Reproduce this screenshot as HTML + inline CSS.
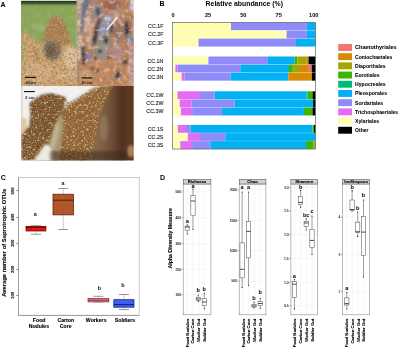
<!DOCTYPE html><html><head><meta charset="utf-8"><style>html,body{margin:0;padding:0;background:#fff;}svg{display:block;will-change:transform;filter:blur(0.3px);} text{font-family:"Liberation Sans", sans-serif;}</style></head><body>
<svg width="400" height="350" viewBox="0 0 400 350">
<rect x="0" y="0" width="400" height="350" fill="#fff"/>
<defs>
<clipPath id="cpTL"><rect x="21" y="0.8" width="55.8" height="85.3"/></clipPath>
<clipPath id="cpTR"><rect x="76.8" y="0" width="56.9" height="86.1"/></clipPath>
<clipPath id="cpB"><rect x="21" y="86.1" width="112.7" height="74.4"/></clipPath>
<filter id="bl" x="-5%" y="-5%" width="110%" height="110%"><feGaussianBlur stdDeviation="0.9"/></filter>
<filter id="bl2" x="-5%" y="-5%" width="110%" height="110%"><feGaussianBlur stdDeviation="1.6"/></filter>
<filter id="spk" x="0" y="0" width="1" height="1">
  <feTurbulence type="fractalNoise" baseFrequency="0.45" numOctaves="2" seed="3" result="n"/>
  <feColorMatrix in="n" type="matrix" values="0 0 0 0 0.88  0 0 0 0 0.68  0 0 0 0 0.38  0 0 0 5 -2.65"/>
  <feGaussianBlur stdDeviation="0.35"/>
</filter>
<filter id="spkd" x="0" y="0" width="1" height="1">
  <feTurbulence type="fractalNoise" baseFrequency="0.45" numOctaves="2" seed="3" result="n"/>
  <feColorMatrix in="n" type="matrix" values="0 0 0 0 0.30  0 0 0 0 0.17  0 0 0 0 0.05  0 0 0 -5 2.45"/>
  <feGaussianBlur stdDeviation="0.35"/>
</filter>
<filter id="motd" x="0" y="0" width="1" height="1">
  <feTurbulence type="fractalNoise" baseFrequency="0.22" numOctaves="2" seed="11" result="n"/>
  <feColorMatrix in="n" type="matrix" values="0 0 0 0 0.26  0 0 0 0 0.22  0 0 0 0 0.27  0 0 0 -5 2.35"/>
</filter>
<filter id="motl" x="0" y="0" width="1" height="1">
  <feTurbulence type="fractalNoise" baseFrequency="0.22" numOctaves="2" seed="11" result="n"/>
  <feColorMatrix in="n" type="matrix" values="0 0 0 0 0.85  0 0 0 0 0.70  0 0 0 0 0.62  0 0 0 5 -2.65"/>
</filter>
<filter id="grs" x="0" y="0" width="1" height="1">
  <feTurbulence type="fractalNoise" baseFrequency="0.25" numOctaves="3" seed="5" result="n"/>
  <feColorMatrix in="n" type="matrix" values="0 0 0 0 0.32  0 0 0 0 0.42  0 0 0 0 0.16  0 0 0 -6 2.95"/>
  <feGaussianBlur stdDeviation="0.5"/>
</filter>
<clipPath id="cpMound"><polygon points="21,33 25,32 29,34 31,38 35,40 38,42 43,43 43.4,37.4 45.5,29 49,20.6 52,17 56,15.7 61.6,17.8 65.8,26.2 69.3,36 70.7,43 72,46 77,48 77,86 21,86"/></clipPath>
<clipPath id="cpBlocks"><polygon points="21,160 21,136 29.4,125 30,114 29.4,103 34.5,98.8 41.7,94.4 50.4,93 59.1,95.1 66.4,97.3 69.3,102.4 78,97.3 86,92.5 93,87.5 98,86 134,86 134,161"/></clipPath>
</defs>
<!-- ===== top-left photo ===== -->
<g clip-path="url(#cpTL)">
 <g filter="url(#bl)">
 <rect x="19" y="-1" width="60" height="89" fill="#88A656"/>
 <rect x="19" y="-1" width="60" height="89" filter="url(#grs)" opacity="0.9"/>
 <ellipse cx="39" cy="27" rx="7" ry="3" fill="#A8B88E" opacity="0.55"/>
 
 <rect x="19" y="-1" width="60" height="5.4" fill="#2A4028"/>
 <polygon points="19,33 25,32 29,34 31,38 35,40 38,42 43,43 43.4,37.4 45.5,29 49,20.6 52,17 56,15.7 61.6,17.8 65.8,26.2 69.3,36 70.7,43 72,46 79,48 79,88 19,88" fill="#C9A174"/>
 <polygon points="43,43 43.4,37.4 45.5,29 49,20.6 52,17 56,15.7 61.6,17.8 65.8,26.2 69.3,36 70.7,43 64,46 50,44" fill="#A98056"/>
 <polygon points="19,40 25,40 26,52 24,66 19,68" fill="#A8A878" opacity="0.75"/>
 <ellipse cx="71" cy="58" rx="7" ry="11" fill="#DEC6A4" opacity="0.8"/>
 <ellipse cx="38" cy="72" rx="14" ry="10" fill="#D6B08A" opacity="0.6"/>
 <polygon points="44,44 48,41.5 55,41 60,44 61.5,51 59,58 53,61 47,59.5 43.5,54" fill="#7C6E5C"/>
 <ellipse cx="51.5" cy="51" rx="5.5" ry="6" fill="#675A4A"/>
 <line x1="33.6" y1="47.2" x2="39.2" y2="62.6" stroke="#6A5038" stroke-width="1.2" opacity="0.8"/>
 <line x1="57" y1="75.8" x2="78" y2="74.2" stroke="#E6D0B6" stroke-width="1.4"/>
 </g>
 <g clip-path="url(#cpMound)">
  <rect x="21" y="1" width="56" height="85" filter="url(#spk)" opacity="0.3"/>
  <rect x="21" y="1" width="56" height="85" filter="url(#spkd)" opacity="0.5"/>
 </g>
 <rect x="25.2" y="76.8" width="10.9" height="1.2" fill="#111"/>
 <text x="25.4" y="83.5" font-size="4.2" font-weight="bold" fill="#222" textLength="10.5">20 cm</text>
</g>
<!-- ===== top-right photo ===== -->
<g clip-path="url(#cpTR)">
 <g filter="url(#bl)">
 <rect x="75" y="-2" width="61" height="90" fill="#BA7E58"/>
 <polygon points="75,56 136,60 136,88 75,88" fill="#C48A60"/>
 <rect x="76.8" y="-2" width="1.0" height="90" fill="#8A9A78"/>
 <rect x="77.6" y="-2" width="5" height="62" fill="#D2B6A4"/>
 <rect x="84" y="8" width="4" height="24" fill="#D6B6A6"/>
 <rect x="88" y="-2" width="7" height="40" fill="#B88A78"/>
 <polygon points="86,14 90,12 92,28 91,45 88,50 86,40" fill="#D4AA90"/>
 <polygon points="113,2 118,0 121,10 122,30 120,48 116,60 113,50 114,30" fill="#C49A8A"/>
 <polygon points="82,-2 90,-2 89,8 86,13 84,25 81.5,36 79.8,34 80.5,20" fill="#687484"/>
 
 <ellipse cx="98" cy="11.5" rx="5" ry="7.5" fill="#9C98A4"/>
 <ellipse cx="98" cy="11.5" rx="2.8" ry="4.5" fill="#4E5262"/>
 <ellipse cx="112" cy="5" rx="9" ry="5" fill="#9A5E4E"/>
 <polygon points="96,36 108,31 111,40 109,52 105,60 97,60 93.5,50" fill="#9A9086"/>
 <polygon points="100,21 108,14 112.5,15 111.5,24 108,32 99,37 96.5,32" fill="#9498B2"/>
 <ellipse cx="108.5" cy="18.5" rx="3.5" ry="3" fill="#C4C8D8"/>
 <polygon points="99,18 101.5,18.5 98.5,30 96.5,42 93.5,47 92,41 95,28" fill="#3A3236"/>
 <ellipse cx="111.5" cy="29" rx="1.5" ry="5" fill="#3A3236"/>
 <ellipse cx="118" cy="32" rx="5" ry="11" fill="#987468"/>
 <ellipse cx="127" cy="29" rx="2.8" ry="8.5" fill="#3C3444"/>
 <rect x="130" y="-2" width="6" height="14" fill="#D8C8D0"/>
 <ellipse cx="106" cy="40" rx="2.2" ry="4" fill="#2E2630"/>
 <ellipse cx="130.5" cy="39" rx="3.5" ry="6" fill="#8890A0"/>
 <polygon points="81,47 85,46 86,56 84.5,66 81.5,64" fill="#3E3434"/>
 <ellipse cx="89" cy="57" rx="3.2" ry="5" fill="#9080A8"/>
 <circle cx="100" cy="51.5" r="1.9" fill="#302828"/>
 <circle cx="95" cy="58" r="1.8" fill="#302828"/>
 <circle cx="92" cy="68.5" r="1.7" fill="#362c2c"/>
 <circle cx="97.5" cy="70.5" r="1.7" fill="#362c2c"/>
 <circle cx="108" cy="57" r="2.1" fill="#2c2424"/>
 <ellipse cx="118" cy="54" rx="6" ry="8" fill="#B48C88"/>
 <ellipse cx="110.5" cy="70" rx="4" ry="3" fill="#D4824E"/>
 <ellipse cx="117.5" cy="75" rx="3" ry="4" fill="#3C4454"/>
 <ellipse cx="125" cy="62" rx="3" ry="3" fill="#5A4040"/>
 <rect x="129" y="44" width="7" height="44" fill="#C8A0A0" opacity="0.75"/>
 <ellipse cx="85" cy="76" rx="7" ry="6" fill="#D2A076" opacity="0.7"/>
 <ellipse cx="104" cy="80" rx="6" ry="4" fill="#B88060" opacity="0.7"/>
 </g>
 <rect x="76.8" y="0" width="57" height="86" filter="url(#motd)" opacity="0.55"/>
 <rect x="76.8" y="0" width="57" height="86" filter="url(#motl)" opacity="0.45"/>
 <rect x="76.8" y="0" width="57" height="86" filter="url(#spkd)" opacity="0.25"/>
 <line x1="117.5" y1="17.2" x2="106.5" y2="30.1" stroke="#EEEEF6" stroke-width="1.5"/>
 <rect x="81.6" y="77.3" width="10.7" height="1.2" fill="#111"/>
 <text x="81.4" y="83.6" font-size="4.2" font-weight="bold" fill="#222" textLength="11">40 cm</text>
</g>
<!-- ===== bottom photo ===== -->
<linearGradient id="gR" x1="98" y1="0" x2="128" y2="0" gradientUnits="userSpaceOnUse">
 <stop offset="0" stop-color="#86684A"/><stop offset="0.45" stop-color="#6E5038"/><stop offset="0.8" stop-color="#523020"/><stop offset="1" stop-color="#5A3824"/>
</linearGradient>
<clipPath id="cpPor"><polygon points="21,161 21,136 29.4,125 30,114 29.4,103 34.5,98.8 41.7,94.4 50.4,93 59.1,95.1 66.4,97.3 69.3,102.4 78,97.3 86,92.5 93,87.5 98,86 113,86 104,105 99,118 94.6,141 92,161"/></clipPath>
<g clip-path="url(#cpB)">
 <g filter="url(#bl)">
 <rect x="19" y="84" width="117" height="79" fill="#F1F2F0"/>
 <rect x="19" y="84" width="3.2" height="54" fill="#D8C8B0"/>
 <rect x="19" y="118" width="8" height="18" fill="#E0C8A8"/>
 <polygon points="63.5,106.7 69.3,102.4 78,97.3 86,92.5 93,87.5 98,86 136,84 136,163 33,163 43.2,146.8 53.3,131.6 60,118" fill="#8E6234"/>
 <polygon points="21,161 21,136 29.4,125 30,114 29.4,103 34.5,98.8 41.7,94.4 50.4,93 59.1,95.1 66.4,97.3 65.7,102.4 63.5,106.7 60,118 53.3,131.6 43.2,146.8 33,161" fill="#74502E"/>
 <polygon points="113,84 136,84 136,163 90,163 94.6,141 99,118 104,105" fill="url(#gR)"/>
 <ellipse cx="104" cy="128" rx="4" ry="13" fill="#9A8262" opacity="0.6"/>
 <ellipse cx="131" cy="151" rx="3.5" ry="6" fill="#B08050"/>
 <polygon points="63.5,106.7 69.3,102.4 78,97.3 86,92.5 93,87.5 98,86 99,88 92,91 85,95 78,99.5 70,104.5 65,108.5" fill="#B8A888"/>
 </g>
 <g clip-path="url(#cpPor)">
  <rect x="21" y="85" width="95" height="76" filter="url(#spk)" opacity="0.62"/>
  <rect x="21" y="85" width="95" height="76" filter="url(#spkd)" opacity="0.85"/>
 </g>
 <g filter="url(#bl)">
 <polygon points="57,120 61.5,113 63.5,122 62.5,135 60.5,148 59,163 50,163 46.5,150 51,138" fill="#A89878"/>
 <polygon points="54,128 58,121 59.5,128 57,140 54,150 50,146" fill="#C4B898" opacity="0.8"/>
 <polygon points="33,163 44.8,144.6 49,145.5 52,151 53,163" fill="#EEEAE0"/>
 </g>
 <rect x="50" y="151" width="76" height="10" fill="#3E2C1E" opacity="0.55" filter="url(#bl2)"/>
 <rect x="24" y="91" width="10.8" height="1.1" fill="#111"/>
 <text x="25" y="99.2" font-size="4.2" font-weight="bold" fill="#1a2040" textLength="9.5">2 cm</text>
</g>

<text x="0.60" y="6.50" font-size="7.00" font-weight="bold" fill="#000" text-anchor="start" >A</text>
<text x="159.60" y="6.20" font-size="7.00" font-weight="bold" fill="#000" text-anchor="start" >B</text>
<text x="0.70" y="180.30" font-size="7.00" font-weight="bold" fill="#000" text-anchor="start" >C</text>
<text x="160.10" y="180.30" font-size="7.00" font-weight="bold" fill="#000" text-anchor="start" >D</text>
<text x="244.30" y="6.00" font-size="6.90" font-weight="bold" fill="#000" text-anchor="middle" >Relative abundance (%)</text>
<text x="173.00" y="17.10" font-size="5.60" font-weight="bold" fill="#000" text-anchor="middle" >0</text>
<text x="208.00" y="17.10" font-size="5.60" font-weight="bold" fill="#000" text-anchor="middle" >25</text>
<text x="243.30" y="17.10" font-size="5.60" font-weight="bold" fill="#000" text-anchor="middle" >50</text>
<text x="278.70" y="17.10" font-size="5.60" font-weight="bold" fill="#000" text-anchor="middle" >75</text>
<text x="313.70" y="17.10" font-size="5.60" font-weight="bold" fill="#000" text-anchor="middle" >100</text>
<rect x="172.50" y="22.40" width="58.50" height="8.05" fill="#FFFDB0"/>
<rect x="231.00" y="22.40" width="75.90" height="8.05" fill="#8F8CFA"/>
<rect x="306.90" y="22.40" width="8.60" height="8.05" fill="#02B0F4"/>
<text x="163.40" y="28.42" font-size="5.30" font-weight="normal" fill="#222" text-anchor="end"  stroke="#222" stroke-width="0.12">CC.1F</text>
<rect x="172.50" y="30.45" width="114.10" height="8.05" fill="#FFFDB0"/>
<rect x="286.60" y="30.45" width="20.30" height="8.05" fill="#8F8CFA"/>
<rect x="306.90" y="30.45" width="8.60" height="8.05" fill="#02B0F4"/>
<rect x="172.50" y="30.10" width="143.00" height="0.7" fill="#fff" fill-opacity="0.3"/>
<text x="163.40" y="36.48" font-size="5.30" font-weight="normal" fill="#222" text-anchor="end"  stroke="#222" stroke-width="0.12">CC.2F</text>
<rect x="172.50" y="38.50" width="26.00" height="8.05" fill="#FFFDB0"/>
<rect x="198.50" y="38.50" width="97.50" height="8.05" fill="#8F8CFA"/>
<rect x="296.00" y="38.50" width="19.50" height="8.05" fill="#02B0F4"/>
<rect x="172.50" y="38.15" width="143.00" height="0.7" fill="#fff" fill-opacity="0.3"/>
<text x="163.40" y="44.52" font-size="5.30" font-weight="normal" fill="#222" text-anchor="end"  stroke="#222" stroke-width="0.12">CC.3F</text>
<rect x="172.50" y="56.50" width="35.90" height="8.05" fill="#FFFDB0"/>
<rect x="208.40" y="56.50" width="59.50" height="8.05" fill="#8F8CFA"/>
<rect x="267.90" y="56.50" width="26.70" height="8.05" fill="#02B0F4"/>
<rect x="294.60" y="56.50" width="2.70" height="8.05" fill="#39B600"/>
<rect x="297.30" y="56.50" width="9.45" height="8.05" fill="#A3A500"/>
<rect x="306.75" y="56.50" width="1.75" height="8.05" fill="#D98A00"/>
<rect x="308.50" y="56.50" width="7.00" height="8.05" fill="#000000"/>
<text x="163.40" y="62.52" font-size="5.30" font-weight="normal" fill="#222" text-anchor="end"  stroke="#222" stroke-width="0.12">CC.1N</text>
<rect x="172.50" y="64.55" width="2.90" height="8.05" fill="#FFFDB0"/>
<rect x="175.40" y="64.55" width="2.20" height="8.05" fill="#E46CF2"/>
<rect x="177.60" y="64.55" width="62.70" height="8.05" fill="#8F8CFA"/>
<rect x="240.30" y="64.55" width="48.70" height="8.05" fill="#02B0F4"/>
<rect x="289.00" y="64.55" width="3.80" height="8.05" fill="#39B600"/>
<rect x="292.80" y="64.55" width="7.20" height="8.05" fill="#A3A500"/>
<rect x="300.00" y="64.55" width="8.00" height="8.05" fill="#D98A00"/>
<rect x="308.00" y="64.55" width="3.70" height="8.05" fill="#F3756D"/>
<rect x="311.70" y="64.55" width="3.80" height="8.05" fill="#000000"/>
<rect x="172.50" y="64.20" width="143.00" height="0.7" fill="#fff" fill-opacity="0.3"/>
<text x="163.40" y="70.58" font-size="5.30" font-weight="normal" fill="#222" text-anchor="end"  stroke="#222" stroke-width="0.12">CC.2N</text>
<rect x="172.50" y="72.60" width="9.10" height="8.05" fill="#FFFDB0"/>
<rect x="181.60" y="72.60" width="3.00" height="8.05" fill="#E46CF2"/>
<rect x="184.60" y="72.60" width="45.80" height="8.05" fill="#8F8CFA"/>
<rect x="230.40" y="72.60" width="57.90" height="8.05" fill="#02B0F4"/>
<rect x="288.30" y="72.60" width="23.60" height="8.05" fill="#D98A00"/>
<rect x="311.90" y="72.60" width="3.60" height="8.05" fill="#000000"/>
<rect x="172.50" y="72.25" width="143.00" height="0.7" fill="#fff" fill-opacity="0.3"/>
<text x="163.40" y="78.62" font-size="5.30" font-weight="normal" fill="#222" text-anchor="end"  stroke="#222" stroke-width="0.12">CC.3N</text>
<rect x="172.50" y="91.30" width="5.00" height="8.05" fill="#FFFDB0"/>
<rect x="177.50" y="91.30" width="22.50" height="8.05" fill="#E46CF2"/>
<rect x="200.00" y="91.30" width="14.60" height="8.05" fill="#8F8CFA"/>
<rect x="214.60" y="91.30" width="92.10" height="8.05" fill="#02B0F4"/>
<rect x="306.70" y="91.30" width="0.90" height="8.05" fill="#00BA78"/>
<rect x="307.60" y="91.30" width="4.90" height="8.05" fill="#39B600"/>
<rect x="312.50" y="91.30" width="3.00" height="8.05" fill="#000000"/>
<text x="163.40" y="97.33" font-size="5.30" font-weight="normal" fill="#222" text-anchor="end"  stroke="#222" stroke-width="0.12">CC.1W</text>
<rect x="172.50" y="99.35" width="7.25" height="8.05" fill="#FFFDB0"/>
<rect x="179.75" y="99.35" width="11.85" height="8.05" fill="#E46CF2"/>
<rect x="191.60" y="99.35" width="43.10" height="8.05" fill="#8F8CFA"/>
<rect x="234.70" y="99.35" width="78.40" height="8.05" fill="#02B0F4"/>
<rect x="313.10" y="99.35" width="2.40" height="8.05" fill="#000000"/>
<rect x="172.50" y="99.00" width="143.00" height="0.7" fill="#fff" fill-opacity="0.3"/>
<text x="163.40" y="105.38" font-size="5.30" font-weight="normal" fill="#222" text-anchor="end"  stroke="#222" stroke-width="0.12">CC.2W</text>
<rect x="172.50" y="107.40" width="8.40" height="8.05" fill="#FFFDB0"/>
<rect x="180.90" y="107.40" width="11.20" height="8.05" fill="#E46CF2"/>
<rect x="192.10" y="107.40" width="30.00" height="8.05" fill="#8F8CFA"/>
<rect x="222.10" y="107.40" width="81.80" height="8.05" fill="#02B0F4"/>
<rect x="303.90" y="107.40" width="8.60" height="8.05" fill="#39B600"/>
<rect x="312.50" y="107.40" width="3.00" height="8.05" fill="#000000"/>
<rect x="172.50" y="107.05" width="143.00" height="0.7" fill="#fff" fill-opacity="0.3"/>
<text x="163.40" y="113.43" font-size="5.30" font-weight="normal" fill="#222" text-anchor="end"  stroke="#222" stroke-width="0.12">CC.3W</text>
<rect x="172.50" y="124.90" width="5.40" height="8.05" fill="#FFFDB0"/>
<rect x="177.90" y="124.90" width="8.10" height="8.05" fill="#E46CF2"/>
<rect x="186.00" y="124.90" width="4.60" height="8.05" fill="#8F8CFA"/>
<rect x="190.60" y="124.90" width="121.90" height="8.05" fill="#02B0F4"/>
<rect x="312.50" y="124.90" width="1.50" height="8.05" fill="#39B600"/>
<rect x="314.00" y="124.90" width="1.50" height="8.05" fill="#000000"/>
<text x="163.40" y="130.93" font-size="5.30" font-weight="normal" fill="#222" text-anchor="end"  stroke="#222" stroke-width="0.12">CC.1S</text>
<rect x="172.50" y="132.95" width="15.30" height="8.05" fill="#FFFDB0"/>
<rect x="187.80" y="132.95" width="12.20" height="8.05" fill="#E46CF2"/>
<rect x="200.00" y="132.95" width="25.30" height="8.05" fill="#8F8CFA"/>
<rect x="225.30" y="132.95" width="90.20" height="8.05" fill="#02B0F4"/>
<rect x="172.50" y="132.60" width="143.00" height="0.7" fill="#fff" fill-opacity="0.3"/>
<text x="163.40" y="138.98" font-size="5.30" font-weight="normal" fill="#222" text-anchor="end"  stroke="#222" stroke-width="0.12">CC.2S</text>
<rect x="172.50" y="141.00" width="7.80" height="8.05" fill="#FFFDB0"/>
<rect x="180.30" y="141.00" width="11.80" height="8.05" fill="#E46CF2"/>
<rect x="192.10" y="141.00" width="18.20" height="8.05" fill="#8F8CFA"/>
<rect x="210.30" y="141.00" width="95.70" height="8.05" fill="#02B0F4"/>
<rect x="306.00" y="141.00" width="7.40" height="8.05" fill="#39B600"/>
<rect x="313.40" y="141.00" width="2.10" height="8.05" fill="#A3A500"/>
<rect x="172.50" y="140.65" width="143.00" height="0.7" fill="#fff" fill-opacity="0.3"/>
<text x="163.40" y="147.03" font-size="5.30" font-weight="normal" fill="#222" text-anchor="end"  stroke="#222" stroke-width="0.12">CC.3S</text>
<rect x="172.6" y="22.35" width="142.95" height="126.7" fill="none" stroke="#666" stroke-width="0.7"/>
<rect x="338.2" y="44.00" width="13.8" height="6.9" fill="#F3756D"/>
<text x="355.00" y="49.40" font-size="5.55" font-weight="bold" fill="#000" text-anchor="start" textLength="41.6" lengthAdjust="spacingAndGlyphs" stroke="#000" stroke-width="0.05">Chaetothyriales</text>
<rect x="338.2" y="53.20" width="13.8" height="6.9" fill="#D98A00"/>
<text x="355.00" y="58.60" font-size="5.55" font-weight="bold" fill="#000" text-anchor="start" textLength="37.4" lengthAdjust="spacingAndGlyphs" stroke="#000" stroke-width="0.05">Coniochaetales</text>
<rect x="338.2" y="62.40" width="13.8" height="6.9" fill="#A3A500"/>
<text x="355.00" y="67.80" font-size="5.55" font-weight="bold" fill="#000" text-anchor="start" textLength="30.6" lengthAdjust="spacingAndGlyphs" stroke="#000" stroke-width="0.05">Diaporthales</text>
<rect x="338.2" y="71.60" width="13.8" height="6.9" fill="#39B600"/>
<text x="355.00" y="77.00" font-size="5.55" font-weight="bold" fill="#000" text-anchor="start" textLength="24.6" lengthAdjust="spacingAndGlyphs" stroke="#000" stroke-width="0.05">Eurotiales</text>
<rect x="338.2" y="80.80" width="13.8" height="6.9" fill="#00BA78"/>
<text x="355.00" y="86.20" font-size="5.55" font-weight="bold" fill="#000" text-anchor="start" textLength="30.7" lengthAdjust="spacingAndGlyphs" stroke="#000" stroke-width="0.05">Hypocreales</text>
<rect x="338.2" y="90.00" width="13.8" height="6.9" fill="#02B0F4"/>
<text x="355.00" y="95.40" font-size="5.55" font-weight="bold" fill="#000" text-anchor="start" textLength="32.0" lengthAdjust="spacingAndGlyphs" stroke="#000" stroke-width="0.05">Pleosporales</text>
<rect x="338.2" y="99.20" width="13.8" height="6.9" fill="#8F8CFA"/>
<text x="355.00" y="104.60" font-size="5.55" font-weight="bold" fill="#000" text-anchor="start" textLength="28.2" lengthAdjust="spacingAndGlyphs" stroke="#000" stroke-width="0.05">Sordariales</text>
<rect x="338.2" y="108.40" width="13.8" height="6.9" fill="#E46CF2"/>
<text x="355.00" y="113.80" font-size="5.55" font-weight="bold" fill="#000" text-anchor="start" textLength="43.2" lengthAdjust="spacingAndGlyphs" stroke="#000" stroke-width="0.05">Trichosphaeriales</text>
<rect x="338.2" y="117.60" width="13.8" height="6.9" fill="#FFFDB0"/>
<text x="355.00" y="123.00" font-size="5.55" font-weight="bold" fill="#000" text-anchor="start" textLength="24.2" lengthAdjust="spacingAndGlyphs" stroke="#000" stroke-width="0.05">Xylariales</text>
<rect x="338.2" y="126.80" width="13.8" height="6.9" fill="#000000"/>
<text x="355.00" y="132.20" font-size="5.55" font-weight="bold" fill="#000" text-anchor="start" textLength="13.6" lengthAdjust="spacingAndGlyphs" stroke="#000" stroke-width="0.05">Other</text>
<rect x="18.50" y="177.40" width="120.70" height="138.00" fill="none" stroke="#bdbdbd" stroke-width="0.8"/>
<polyline points="18.50,177.40 18.50,315.40 139.20,315.40" fill="none" stroke="#959595" stroke-width="0.9"/>
<line x1="16.2" y1="295.50" x2="18.5" y2="295.50" stroke="#777" stroke-width="0.8"/>
<text x="0.00" y="0.00" font-size="4.30" font-weight="bold" fill="#222" text-anchor="middle" transform="translate(14.3 295.40) rotate(-90)" stroke="#222" stroke-width="0.15">100</text>
<line x1="16.2" y1="269.50" x2="18.5" y2="269.50" stroke="#777" stroke-width="0.8"/>
<text x="0.00" y="0.00" font-size="4.30" font-weight="bold" fill="#222" text-anchor="middle" transform="translate(14.3 269.30) rotate(-90)" stroke="#222" stroke-width="0.15">200</text>
<line x1="16.2" y1="243.50" x2="18.5" y2="243.50" stroke="#777" stroke-width="0.8"/>
<text x="0.00" y="0.00" font-size="4.30" font-weight="bold" fill="#222" text-anchor="middle" transform="translate(14.3 243.20) rotate(-90)" stroke="#222" stroke-width="0.15">300</text>
<line x1="16.2" y1="217.50" x2="18.5" y2="217.50" stroke="#777" stroke-width="0.8"/>
<text x="0.00" y="0.00" font-size="4.30" font-weight="bold" fill="#222" text-anchor="middle" transform="translate(14.3 217.10) rotate(-90)" stroke="#222" stroke-width="0.15">400</text>
<line x1="16.2" y1="190.50" x2="18.5" y2="190.50" stroke="#777" stroke-width="0.8"/>
<text x="0.00" y="0.00" font-size="4.30" font-weight="bold" fill="#222" text-anchor="middle" transform="translate(14.3 191.00) rotate(-90)" stroke="#222" stroke-width="0.15">500</text>
<text x="0.00" y="0.00" font-size="5.83" font-weight="bold" fill="#000" text-anchor="middle" transform="translate(6.3 242.75) rotate(-90)" stroke="#000" stroke-width="0.10">Average number of Saprotrophic OTUs</text>
<line x1="35.95" y1="225.80" x2="35.95" y2="226.30" stroke="#999" stroke-width="0.5"/>
<line x1="35.95" y1="231.00" x2="35.95" y2="234.20" stroke="#999" stroke-width="0.5"/>
<line x1="30.95" y1="225.80" x2="40.95" y2="225.80" stroke="#6b6b5a" stroke-width="0.7"/>
<line x1="30.95" y1="234.20" x2="40.95" y2="234.20" stroke="#6b6b5a" stroke-width="0.7"/>
<rect x="26.00" y="226.30" width="19.90" height="4.70" fill="#EE1111" stroke="#550000" stroke-width="0.7"/>
<line x1="26.00" y1="227.40" x2="45.90" y2="227.40" stroke="#550000" stroke-width="0.9"/>
<line x1="63.25" y1="188.50" x2="63.25" y2="194.20" stroke="#999" stroke-width="0.5"/>
<line x1="63.25" y1="214.90" x2="63.25" y2="229.50" stroke="#999" stroke-width="0.5"/>
<line x1="58.25" y1="188.50" x2="68.25" y2="188.50" stroke="#6b6b5a" stroke-width="0.7"/>
<line x1="58.25" y1="229.50" x2="68.25" y2="229.50" stroke="#6b6b5a" stroke-width="0.7"/>
<rect x="53.00" y="194.20" width="20.50" height="20.70" fill="#B2552A" stroke="#4a1a00" stroke-width="0.7"/>
<line x1="53.00" y1="200.20" x2="73.50" y2="200.20" stroke="#4a1a00" stroke-width="0.9"/>
<line x1="98.40" y1="296.30" x2="98.40" y2="298.50" stroke="#999" stroke-width="0.5"/>
<line x1="98.40" y1="301.90" x2="98.40" y2="301.90" stroke="#999" stroke-width="0.5"/>
<line x1="93.40" y1="296.30" x2="103.40" y2="296.30" stroke="#6b6b5a" stroke-width="0.7"/>
<line x1="93.40" y1="301.90" x2="103.40" y2="301.90" stroke="#6b6b5a" stroke-width="0.7"/>
<rect x="88.00" y="298.50" width="20.80" height="3.40" fill="#E48AA0" stroke="#8a2030" stroke-width="0.7"/>
<line x1="88.00" y1="300.20" x2="108.80" y2="300.20" stroke="#8a2030" stroke-width="0.9"/>
<line x1="123.90" y1="294.50" x2="123.90" y2="299.70" stroke="#999" stroke-width="0.5"/>
<line x1="123.90" y1="307.20" x2="123.90" y2="309.50" stroke="#999" stroke-width="0.5"/>
<line x1="118.90" y1="294.50" x2="128.90" y2="294.50" stroke="#6b6b5a" stroke-width="0.7"/>
<line x1="118.90" y1="309.50" x2="128.90" y2="309.50" stroke="#6b6b5a" stroke-width="0.7"/>
<rect x="113.80" y="299.70" width="20.20" height="7.50" fill="#3D60F2" stroke="#0a1870" stroke-width="0.7"/>
<line x1="113.80" y1="304.60" x2="134.00" y2="304.60" stroke="#0a1870" stroke-width="0.9"/>
<text x="35.30" y="216.00" font-size="5.40" font-weight="bold" fill="#111" text-anchor="middle" >a</text>
<text x="63.00" y="185.00" font-size="5.40" font-weight="bold" fill="#111" text-anchor="middle" >a</text>
<text x="99.50" y="290.00" font-size="5.40" font-weight="bold" fill="#111" text-anchor="middle" >b</text>
<text x="123.00" y="286.80" font-size="5.40" font-weight="bold" fill="#111" text-anchor="middle" >b</text>
<text x="39.20" y="322.10" font-size="5.20" font-weight="bold" fill="#000" text-anchor="middle"  stroke="#000" stroke-width="0.10">Food</text>
<text x="38.90" y="327.90" font-size="5.20" font-weight="bold" fill="#000" text-anchor="middle"  stroke="#000" stroke-width="0.10">Nodules</text>
<text x="65.80" y="322.10" font-size="5.20" font-weight="bold" fill="#000" text-anchor="middle"  stroke="#000" stroke-width="0.10">Carton</text>
<text x="65.70" y="327.90" font-size="5.20" font-weight="bold" fill="#000" text-anchor="middle"  stroke="#000" stroke-width="0.10">Core</text>
<text x="96.20" y="322.30" font-size="5.20" font-weight="bold" fill="#000" text-anchor="middle"  stroke="#000" stroke-width="0.10">Workers</text>
<text x="125.00" y="322.30" font-size="5.20" font-weight="bold" fill="#000" text-anchor="middle"  stroke="#000" stroke-width="0.10">Soldiers</text>
<rect x="183.20" y="184.00" width="27.70" height="130.80" fill="#fff"/>
<line x1="183.20" y1="191.90" x2="210.90" y2="191.90" stroke="#ececec" stroke-width="0.5"/>
<line x1="183.20" y1="217.60" x2="210.90" y2="217.60" stroke="#ececec" stroke-width="0.5"/>
<line x1="183.20" y1="243.60" x2="210.90" y2="243.60" stroke="#ececec" stroke-width="0.5"/>
<line x1="183.20" y1="269.30" x2="210.90" y2="269.30" stroke="#ececec" stroke-width="0.5"/>
<line x1="183.20" y1="294.60" x2="210.90" y2="294.60" stroke="#ececec" stroke-width="0.5"/>
<line x1="187.10" y1="184.00" x2="187.10" y2="314.80" stroke="#ececec" stroke-width="0.5"/>
<line x1="192.90" y1="184.00" x2="192.90" y2="314.80" stroke="#ececec" stroke-width="0.5"/>
<line x1="198.70" y1="184.00" x2="198.70" y2="314.80" stroke="#ececec" stroke-width="0.5"/>
<line x1="204.40" y1="184.00" x2="204.40" y2="314.80" stroke="#ececec" stroke-width="0.5"/>
<line x1="181.60" y1="191.90" x2="183.20" y2="191.90" stroke="#555" stroke-width="0.5"/>
<text x="181.00" y="193.10" font-size="3.30" font-weight="normal" fill="#333" text-anchor="end"  stroke="#333" stroke-width="0.12">500</text>
<line x1="181.60" y1="217.60" x2="183.20" y2="217.60" stroke="#555" stroke-width="0.5"/>
<text x="181.00" y="218.80" font-size="3.30" font-weight="normal" fill="#333" text-anchor="end"  stroke="#333" stroke-width="0.12">400</text>
<line x1="181.60" y1="243.60" x2="183.20" y2="243.60" stroke="#555" stroke-width="0.5"/>
<text x="181.00" y="244.80" font-size="3.30" font-weight="normal" fill="#333" text-anchor="end"  stroke="#333" stroke-width="0.12">300</text>
<line x1="181.60" y1="269.30" x2="183.20" y2="269.30" stroke="#555" stroke-width="0.5"/>
<text x="181.00" y="270.50" font-size="3.30" font-weight="normal" fill="#333" text-anchor="end"  stroke="#333" stroke-width="0.12">200</text>
<line x1="181.60" y1="294.60" x2="183.20" y2="294.60" stroke="#555" stroke-width="0.5"/>
<text x="181.00" y="295.80" font-size="3.30" font-weight="normal" fill="#333" text-anchor="end"  stroke="#333" stroke-width="0.12">100</text>
<line x1="187.20" y1="224.80" x2="187.20" y2="234.00" stroke="#333" stroke-width="0.45"/>
<rect x="185.05" y="226.10" width="4.30" height="4.30" fill="#fff" stroke="#333" stroke-width="0.45"/>
<line x1="185.05" y1="227.00" x2="189.35" y2="227.00" stroke="#222" stroke-width="0.8"/>
<circle cx="187.20" cy="224.80" r="0.6" fill="#222"/>
<circle cx="187.20" cy="234.00" r="0.6" fill="#222"/>
<text x="187.20" y="222.85" font-size="5.60" font-weight="bold" fill="#000" text-anchor="middle" >a</text>
<line x1="193.00" y1="189.00" x2="193.00" y2="229.30" stroke="#333" stroke-width="0.45"/>
<rect x="190.85" y="195.70" width="4.30" height="20.00" fill="#fff" stroke="#333" stroke-width="0.45"/>
<line x1="190.85" y1="201.00" x2="195.15" y2="201.00" stroke="#222" stroke-width="0.8"/>
<circle cx="193.00" cy="189.00" r="0.6" fill="#222"/>
<circle cx="193.00" cy="229.30" r="0.6" fill="#222"/>
<text x="193.00" y="187.75" font-size="5.60" font-weight="bold" fill="#000" text-anchor="middle" >a</text>
<line x1="198.30" y1="295.00" x2="198.30" y2="301.50" stroke="#333" stroke-width="0.45"/>
<rect x="196.15" y="297.40" width="4.30" height="2.90" fill="#fff" stroke="#333" stroke-width="0.45"/>
<line x1="196.15" y1="299.00" x2="200.45" y2="299.00" stroke="#222" stroke-width="0.8"/>
<circle cx="198.30" cy="295.00" r="0.6" fill="#222"/>
<circle cx="198.30" cy="301.50" r="0.6" fill="#222"/>
<text x="198.30" y="292.05" font-size="5.60" font-weight="bold" fill="#000" text-anchor="middle" >b</text>
<line x1="204.30" y1="293.00" x2="204.30" y2="308.80" stroke="#333" stroke-width="0.45"/>
<rect x="202.15" y="298.60" width="4.30" height="7.10" fill="#fff" stroke="#333" stroke-width="0.45"/>
<line x1="202.15" y1="302.00" x2="206.45" y2="302.00" stroke="#222" stroke-width="0.8"/>
<circle cx="204.30" cy="293.00" r="0.6" fill="#222"/>
<circle cx="204.30" cy="308.80" r="0.6" fill="#222"/>
<text x="204.30" y="290.65" font-size="5.60" font-weight="bold" fill="#000" text-anchor="middle" >b</text>
<rect x="183.20" y="184.00" width="27.70" height="130.80" fill="none" stroke="#8c8c8c" stroke-width="0.6"/>
<rect x="183.20" y="179.30" width="27.70" height="4.70" fill="#d2d2d2" stroke="#444" stroke-width="0.5"/>
<text x="197.05" y="182.90" font-size="4.20" font-weight="bold" fill="#000" text-anchor="middle"  stroke="#000" stroke-width="0.10">Richness</text>
<text x="0.00" y="0.00" font-size="4.30" font-weight="bold" fill="#000" text-anchor="end" transform="translate(188.60 318.7) rotate(-90)" stroke="#000" stroke-width="0.12">Food Nodules</text>
<text x="0.00" y="0.00" font-size="4.30" font-weight="bold" fill="#000" text-anchor="end" transform="translate(194.40 318.7) rotate(-90)" stroke="#000" stroke-width="0.12">Carton Core</text>
<text x="0.00" y="0.00" font-size="4.30" font-weight="bold" fill="#000" text-anchor="end" transform="translate(200.20 318.7) rotate(-90)" stroke="#000" stroke-width="0.12">Worker Gut</text>
<text x="0.00" y="0.00" font-size="4.30" font-weight="bold" fill="#000" text-anchor="end" transform="translate(205.90 318.7) rotate(-90)" stroke="#000" stroke-width="0.12">Soldier Gut</text>
<rect x="239.20" y="184.00" width="26.70" height="130.80" fill="#fff"/>
<line x1="239.20" y1="189.80" x2="265.90" y2="189.80" stroke="#ececec" stroke-width="0.5"/>
<line x1="239.20" y1="220.40" x2="265.90" y2="220.40" stroke="#ececec" stroke-width="0.5"/>
<line x1="239.20" y1="250.70" x2="265.90" y2="250.70" stroke="#ececec" stroke-width="0.5"/>
<line x1="239.20" y1="281.20" x2="265.90" y2="281.20" stroke="#ececec" stroke-width="0.5"/>
<line x1="243.10" y1="184.00" x2="243.10" y2="314.80" stroke="#ececec" stroke-width="0.5"/>
<line x1="248.90" y1="184.00" x2="248.90" y2="314.80" stroke="#ececec" stroke-width="0.5"/>
<line x1="254.70" y1="184.00" x2="254.70" y2="314.80" stroke="#ececec" stroke-width="0.5"/>
<line x1="260.40" y1="184.00" x2="260.40" y2="314.80" stroke="#ececec" stroke-width="0.5"/>
<line x1="237.60" y1="189.80" x2="239.20" y2="189.80" stroke="#555" stroke-width="0.5"/>
<text x="237.00" y="191.00" font-size="3.30" font-weight="normal" fill="#333" text-anchor="end"  stroke="#333" stroke-width="0.12">2000</text>
<line x1="237.60" y1="220.40" x2="239.20" y2="220.40" stroke="#555" stroke-width="0.5"/>
<text x="237.00" y="221.60" font-size="3.30" font-weight="normal" fill="#333" text-anchor="end"  stroke="#333" stroke-width="0.12">1500</text>
<line x1="237.60" y1="250.70" x2="239.20" y2="250.70" stroke="#555" stroke-width="0.5"/>
<text x="237.00" y="251.90" font-size="3.30" font-weight="normal" fill="#333" text-anchor="end"  stroke="#333" stroke-width="0.12">1000</text>
<line x1="237.60" y1="281.20" x2="239.20" y2="281.20" stroke="#555" stroke-width="0.5"/>
<text x="237.00" y="282.40" font-size="3.30" font-weight="normal" fill="#333" text-anchor="end"  stroke="#333" stroke-width="0.12">500</text>
<line x1="242.10" y1="192.00" x2="242.10" y2="287.60" stroke="#333" stroke-width="0.45"/>
<rect x="239.95" y="242.90" width="4.30" height="35.00" fill="#fff" stroke="#333" stroke-width="0.45"/>
<line x1="239.95" y1="269.30" x2="244.25" y2="269.30" stroke="#222" stroke-width="0.8"/>
<circle cx="242.10" cy="192.00" r="0.6" fill="#222"/>
<circle cx="242.10" cy="287.60" r="0.6" fill="#222"/>
<text x="242.10" y="189.05" font-size="5.60" font-weight="bold" fill="#000" text-anchor="middle" >a</text>
<line x1="248.50" y1="192.00" x2="248.50" y2="285.50" stroke="#333" stroke-width="0.45"/>
<rect x="246.35" y="221.40" width="4.30" height="36.50" fill="#fff" stroke="#333" stroke-width="0.45"/>
<line x1="246.35" y1="231.40" x2="250.65" y2="231.40" stroke="#222" stroke-width="0.8"/>
<circle cx="248.50" cy="192.00" r="0.6" fill="#222"/>
<circle cx="248.50" cy="285.50" r="0.6" fill="#222"/>
<text x="248.50" y="189.05" font-size="5.60" font-weight="bold" fill="#000" text-anchor="middle" >a</text>
<line x1="254.00" y1="302.00" x2="254.00" y2="308.00" stroke="#333" stroke-width="0.45"/>
<rect x="251.85" y="304.70" width="4.30" height="2.30" fill="#fff" stroke="#333" stroke-width="0.45"/>
<line x1="251.85" y1="306.00" x2="256.15" y2="306.00" stroke="#222" stroke-width="0.8"/>
<circle cx="254.00" cy="302.00" r="0.6" fill="#222"/>
<circle cx="254.00" cy="308.00" r="0.6" fill="#222"/>
<text x="254.00" y="299.55" font-size="5.60" font-weight="bold" fill="#000" text-anchor="middle" >b</text>
<line x1="260.20" y1="298.50" x2="260.20" y2="308.30" stroke="#333" stroke-width="0.45"/>
<rect x="258.05" y="301.60" width="4.30" height="4.10" fill="#fff" stroke="#333" stroke-width="0.45"/>
<line x1="258.05" y1="303.50" x2="262.35" y2="303.50" stroke="#222" stroke-width="0.8"/>
<circle cx="260.20" cy="298.50" r="0.6" fill="#222"/>
<circle cx="260.20" cy="308.30" r="0.6" fill="#222"/>
<text x="260.20" y="294.35" font-size="5.60" font-weight="bold" fill="#000" text-anchor="middle" >b</text>
<rect x="239.20" y="184.00" width="26.70" height="130.80" fill="none" stroke="#8c8c8c" stroke-width="0.6"/>
<rect x="239.20" y="179.30" width="26.70" height="4.70" fill="#d2d2d2" stroke="#444" stroke-width="0.5"/>
<text x="252.55" y="182.90" font-size="4.20" font-weight="bold" fill="#000" text-anchor="middle"  stroke="#000" stroke-width="0.10">Chao</text>
<text x="0.00" y="0.00" font-size="4.30" font-weight="bold" fill="#000" text-anchor="end" transform="translate(244.60 318.7) rotate(-90)" stroke="#000" stroke-width="0.12">Food Nodules</text>
<text x="0.00" y="0.00" font-size="4.30" font-weight="bold" fill="#000" text-anchor="end" transform="translate(250.40 318.7) rotate(-90)" stroke="#000" stroke-width="0.12">Carton Core</text>
<text x="0.00" y="0.00" font-size="4.30" font-weight="bold" fill="#000" text-anchor="end" transform="translate(256.20 318.7) rotate(-90)" stroke="#000" stroke-width="0.12">Worker Gut</text>
<text x="0.00" y="0.00" font-size="4.30" font-weight="bold" fill="#000" text-anchor="end" transform="translate(261.90 318.7) rotate(-90)" stroke="#000" stroke-width="0.12">Soldier Gut</text>
<rect x="290.90" y="184.00" width="26.80" height="130.80" fill="#fff"/>
<line x1="290.90" y1="187.30" x2="317.70" y2="187.30" stroke="#ececec" stroke-width="0.5"/>
<line x1="290.90" y1="211.00" x2="317.70" y2="211.00" stroke="#ececec" stroke-width="0.5"/>
<line x1="290.90" y1="234.60" x2="317.70" y2="234.60" stroke="#ececec" stroke-width="0.5"/>
<line x1="290.90" y1="258.40" x2="317.70" y2="258.40" stroke="#ececec" stroke-width="0.5"/>
<line x1="290.90" y1="282.40" x2="317.70" y2="282.40" stroke="#ececec" stroke-width="0.5"/>
<line x1="290.90" y1="305.80" x2="317.70" y2="305.80" stroke="#ececec" stroke-width="0.5"/>
<line x1="294.80" y1="184.00" x2="294.80" y2="314.80" stroke="#ececec" stroke-width="0.5"/>
<line x1="300.60" y1="184.00" x2="300.60" y2="314.80" stroke="#ececec" stroke-width="0.5"/>
<line x1="306.40" y1="184.00" x2="306.40" y2="314.80" stroke="#ececec" stroke-width="0.5"/>
<line x1="312.10" y1="184.00" x2="312.10" y2="314.80" stroke="#ececec" stroke-width="0.5"/>
<line x1="289.30" y1="187.30" x2="290.90" y2="187.30" stroke="#555" stroke-width="0.5"/>
<text x="288.70" y="188.50" font-size="3.30" font-weight="normal" fill="#333" text-anchor="end"  stroke="#333" stroke-width="0.12">3.0</text>
<line x1="289.30" y1="211.00" x2="290.90" y2="211.00" stroke="#555" stroke-width="0.5"/>
<text x="288.70" y="212.20" font-size="3.30" font-weight="normal" fill="#333" text-anchor="end"  stroke="#333" stroke-width="0.12">2.5</text>
<line x1="289.30" y1="234.60" x2="290.90" y2="234.60" stroke="#555" stroke-width="0.5"/>
<text x="288.70" y="235.80" font-size="3.30" font-weight="normal" fill="#333" text-anchor="end"  stroke="#333" stroke-width="0.12">2.0</text>
<line x1="289.30" y1="258.40" x2="290.90" y2="258.40" stroke="#555" stroke-width="0.5"/>
<text x="288.70" y="259.60" font-size="3.30" font-weight="normal" fill="#333" text-anchor="end"  stroke="#333" stroke-width="0.12">1.5</text>
<line x1="289.30" y1="282.40" x2="290.90" y2="282.40" stroke="#555" stroke-width="0.5"/>
<text x="288.70" y="283.60" font-size="3.30" font-weight="normal" fill="#333" text-anchor="end"  stroke="#333" stroke-width="0.12">1.0</text>
<line x1="289.30" y1="305.80" x2="290.90" y2="305.80" stroke="#555" stroke-width="0.5"/>
<text x="288.70" y="307.00" font-size="3.30" font-weight="normal" fill="#333" text-anchor="end"  stroke="#333" stroke-width="0.12">0.5</text>
<line x1="294.40" y1="279.50" x2="294.40" y2="308.90" stroke="#333" stroke-width="0.45"/>
<rect x="292.25" y="281.40" width="4.30" height="16.00" fill="#fff" stroke="#333" stroke-width="0.45"/>
<line x1="292.25" y1="284.20" x2="296.55" y2="284.20" stroke="#222" stroke-width="0.8"/>
<circle cx="294.40" cy="279.50" r="0.6" fill="#222"/>
<circle cx="294.40" cy="308.90" r="0.6" fill="#222"/>
<text x="294.40" y="277.85" font-size="5.60" font-weight="bold" fill="#000" text-anchor="middle" >a</text>
<line x1="300.60" y1="190.40" x2="300.60" y2="207.20" stroke="#333" stroke-width="0.45"/>
<rect x="298.45" y="196.40" width="4.30" height="8.10" fill="#fff" stroke="#333" stroke-width="0.45"/>
<line x1="298.45" y1="202.40" x2="302.75" y2="202.40" stroke="#222" stroke-width="0.8"/>
<circle cx="300.60" cy="190.40" r="0.6" fill="#222"/>
<circle cx="300.60" cy="207.20" r="0.6" fill="#222"/>
<text x="300.60" y="189.35" font-size="5.60" font-weight="bold" fill="#000" text-anchor="middle" >b</text>
<line x1="306.20" y1="218.50" x2="306.20" y2="230.00" stroke="#333" stroke-width="0.45"/>
<rect x="304.05" y="221.30" width="4.30" height="5.10" fill="#fff" stroke="#333" stroke-width="0.45"/>
<line x1="304.05" y1="223.00" x2="308.35" y2="223.00" stroke="#222" stroke-width="0.8"/>
<circle cx="306.20" cy="218.50" r="0.6" fill="#222"/>
<circle cx="306.20" cy="230.00" r="0.6" fill="#222"/>
<text x="306.20" y="217.35" font-size="5.60" font-weight="bold" fill="#000" text-anchor="middle" >bc</text>
<line x1="312.00" y1="216.00" x2="312.00" y2="254.50" stroke="#333" stroke-width="0.45"/>
<rect x="309.85" y="229.30" width="4.30" height="18.30" fill="#fff" stroke="#333" stroke-width="0.45"/>
<line x1="309.85" y1="240.40" x2="314.15" y2="240.40" stroke="#222" stroke-width="0.8"/>
<circle cx="312.00" cy="216.00" r="0.6" fill="#222"/>
<circle cx="312.00" cy="254.50" r="0.6" fill="#222"/>
<text x="312.00" y="212.95" font-size="5.60" font-weight="bold" fill="#000" text-anchor="middle" >c</text>
<rect x="290.90" y="184.00" width="26.80" height="130.80" fill="none" stroke="#8c8c8c" stroke-width="0.6"/>
<rect x="290.90" y="179.30" width="26.80" height="4.70" fill="#d2d2d2" stroke="#444" stroke-width="0.5"/>
<text x="304.30" y="182.90" font-size="4.20" font-weight="bold" fill="#000" text-anchor="middle"  stroke="#000" stroke-width="0.10">Shannon</text>
<text x="0.00" y="0.00" font-size="4.30" font-weight="bold" fill="#000" text-anchor="end" transform="translate(296.30 318.7) rotate(-90)" stroke="#000" stroke-width="0.12">Food Nodules</text>
<text x="0.00" y="0.00" font-size="4.30" font-weight="bold" fill="#000" text-anchor="end" transform="translate(302.10 318.7) rotate(-90)" stroke="#000" stroke-width="0.12">Carton Core</text>
<text x="0.00" y="0.00" font-size="4.30" font-weight="bold" fill="#000" text-anchor="end" transform="translate(307.90 318.7) rotate(-90)" stroke="#000" stroke-width="0.12">Worker Gut</text>
<text x="0.00" y="0.00" font-size="4.30" font-weight="bold" fill="#000" text-anchor="end" transform="translate(313.60 318.7) rotate(-90)" stroke="#000" stroke-width="0.12">Soldier Gut</text>
<rect x="342.60" y="184.00" width="27.00" height="130.80" fill="#fff"/>
<line x1="342.60" y1="217.10" x2="369.60" y2="217.10" stroke="#ececec" stroke-width="0.5"/>
<line x1="342.60" y1="254.30" x2="369.60" y2="254.30" stroke="#ececec" stroke-width="0.5"/>
<line x1="342.60" y1="291.40" x2="369.60" y2="291.40" stroke="#ececec" stroke-width="0.5"/>
<line x1="346.50" y1="184.00" x2="346.50" y2="314.80" stroke="#ececec" stroke-width="0.5"/>
<line x1="352.30" y1="184.00" x2="352.30" y2="314.80" stroke="#ececec" stroke-width="0.5"/>
<line x1="358.10" y1="184.00" x2="358.10" y2="314.80" stroke="#ececec" stroke-width="0.5"/>
<line x1="363.80" y1="184.00" x2="363.80" y2="314.80" stroke="#ececec" stroke-width="0.5"/>
<line x1="341.00" y1="217.10" x2="342.60" y2="217.10" stroke="#555" stroke-width="0.5"/>
<text x="340.40" y="218.30" font-size="3.30" font-weight="normal" fill="#333" text-anchor="end"  stroke="#333" stroke-width="0.12">4</text>
<line x1="341.00" y1="254.30" x2="342.60" y2="254.30" stroke="#555" stroke-width="0.5"/>
<text x="340.40" y="255.50" font-size="3.30" font-weight="normal" fill="#333" text-anchor="end"  stroke="#333" stroke-width="0.12">3</text>
<line x1="341.00" y1="291.40" x2="342.60" y2="291.40" stroke="#555" stroke-width="0.5"/>
<text x="340.40" y="292.60" font-size="3.30" font-weight="normal" fill="#333" text-anchor="end"  stroke="#333" stroke-width="0.12">2</text>
<line x1="346.80" y1="292.50" x2="346.80" y2="309.00" stroke="#333" stroke-width="0.45"/>
<rect x="344.65" y="297.90" width="4.30" height="7.10" fill="#fff" stroke="#333" stroke-width="0.45"/>
<line x1="344.65" y1="303.60" x2="348.95" y2="303.60" stroke="#222" stroke-width="0.8"/>
<circle cx="346.80" cy="292.50" r="0.6" fill="#222"/>
<circle cx="346.80" cy="309.00" r="0.6" fill="#222"/>
<text x="346.80" y="290.35" font-size="5.60" font-weight="bold" fill="#000" text-anchor="middle" >a</text>
<line x1="352.10" y1="190.70" x2="352.10" y2="211.00" stroke="#333" stroke-width="0.45"/>
<rect x="349.95" y="200.00" width="4.30" height="10.70" fill="#fff" stroke="#333" stroke-width="0.45"/>
<line x1="349.95" y1="209.50" x2="354.25" y2="209.50" stroke="#222" stroke-width="0.8"/>
<circle cx="352.10" cy="190.70" r="0.6" fill="#222"/>
<circle cx="352.10" cy="211.00" r="0.6" fill="#222"/>
<text x="352.10" y="189.15" font-size="5.60" font-weight="bold" fill="#000" text-anchor="middle" >b</text>
<line x1="357.70" y1="212.00" x2="357.70" y2="236.40" stroke="#333" stroke-width="0.45"/>
<rect x="355.55" y="222.10" width="4.30" height="10.00" fill="#fff" stroke="#333" stroke-width="0.45"/>
<line x1="355.55" y1="231.80" x2="359.85" y2="231.80" stroke="#222" stroke-width="0.8"/>
<circle cx="357.70" cy="212.00" r="0.6" fill="#222"/>
<circle cx="357.70" cy="236.40" r="0.6" fill="#222"/>
<text x="357.70" y="209.95" font-size="5.60" font-weight="bold" fill="#000" text-anchor="middle" >b</text>
<line x1="363.50" y1="200.00" x2="363.50" y2="277.10" stroke="#333" stroke-width="0.45"/>
<rect x="361.35" y="216.40" width="4.30" height="38.90" fill="#fff" stroke="#333" stroke-width="0.45"/>
<line x1="361.35" y1="232.10" x2="365.65" y2="232.10" stroke="#222" stroke-width="0.8"/>
<circle cx="363.50" cy="200.00" r="0.6" fill="#222"/>
<circle cx="363.50" cy="277.10" r="0.6" fill="#222"/>
<text x="363.50" y="197.05" font-size="5.60" font-weight="bold" fill="#000" text-anchor="middle" >b</text>
<rect x="342.60" y="184.00" width="27.00" height="130.80" fill="none" stroke="#8c8c8c" stroke-width="0.6"/>
<rect x="342.60" y="179.30" width="27.00" height="4.70" fill="#d2d2d2" stroke="#444" stroke-width="0.5"/>
<text x="356.10" y="182.90" font-size="4.20" font-weight="bold" fill="#000" text-anchor="middle"  stroke="#000" stroke-width="0.10">InvSimpson</text>
<text x="0.00" y="0.00" font-size="4.30" font-weight="bold" fill="#000" text-anchor="end" transform="translate(348.00 318.7) rotate(-90)" stroke="#000" stroke-width="0.12">Food Nodules</text>
<text x="0.00" y="0.00" font-size="4.30" font-weight="bold" fill="#000" text-anchor="end" transform="translate(353.80 318.7) rotate(-90)" stroke="#000" stroke-width="0.12">Carton Core</text>
<text x="0.00" y="0.00" font-size="4.30" font-weight="bold" fill="#000" text-anchor="end" transform="translate(359.60 318.7) rotate(-90)" stroke="#000" stroke-width="0.12">Worker Gut</text>
<text x="0.00" y="0.00" font-size="4.30" font-weight="bold" fill="#000" text-anchor="end" transform="translate(365.30 318.7) rotate(-90)" stroke="#000" stroke-width="0.12">Soldier Gut</text>
<text x="0.00" y="0.00" font-size="5.20" font-weight="bold" fill="#000" text-anchor="middle" transform="translate(171.9 238.3) rotate(-90)" stroke="#000" stroke-width="0.10">Alpha Diversity Measure</text>
</svg></body></html>
